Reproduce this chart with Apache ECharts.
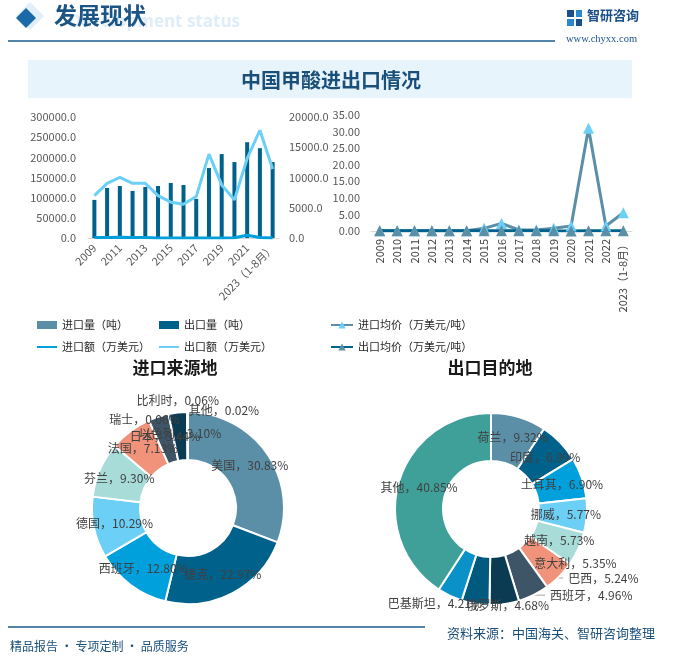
<!DOCTYPE html>
<html>
<head>
<meta charset="utf-8">
<script src="https://cdn.jsdelivr.net/npm/echarts@6/dist/echarts.min.js"></script>
<style>
html,body{margin:0;padding:0;background:#fff;}
#c{width:676px;height:657px;}
</style>
</head>
<body>
<div id="c"></div>
<script>
// ---------- DATA ----------
const years = ['2009','2010','2011','2012','2013','2014','2015','2016','2017','2018','2019','2020','2021','2022','2023（1-8月）'];
const importVolume = [1300,1200,1400,1200,1000,300,120,60,40,40,80,250,14,60,40];
const exportVolume = [94500,124100,129000,116700,126600,129000,136400,131500,97000,173400,208000,188200,237500,222700,188200];
const importAmount = [100,90,110,100,80,15,10,10,8,8,10,30,450,80,20];
const exportAmount = [7010,9040,10030,9040,9040,7010,5920,5590,6850,13860,8770,6300,13150,17810,11400];
const importPrice = [0.08,0.07,0.08,0.08,0.07,0.05,0.8,2.3,0.3,0.3,0.8,1.5,31.0,1.5,5.5];
const exportPrice = [0.07,0.07,0.08,0.08,0.07,0.05,0.04,0.04,0.07,0.08,0.04,0.03,0.06,0.08,0.06];

const importSources = ['美国','捷克','西班牙','德国','芬兰','法国','日本','以色列','瑞士','比利时','其他'];
const importShares  = [30.83,22.97,12.80,10.29,9.30,7.13,3.44,3.10,0.06,0.06,0.02];

const exportDests  = ['荷兰','印度','土耳其','挪威','越南','意大利','巴西','西班牙','俄罗斯','巴基斯坦','其他'];
const exportShares = [9.32,6.99,6.90,5.77,5.73,5.35,5.24,4.96,4.68,4.21,40.85];

// ---------- STYLE ----------
const pieColors = ['#5b8fa8','#00628b','#00a0dc','#6ccff6','#a8dcd9','#f0937a','#3d5566','#0b3b52','#005a80','#0a92c8','#3fa09a'];
const FONT = '"Noto Sans CJK SC","Noto Sans",sans-serif';
const DARK = '#1a5586';
const labelColor = '#404040';

const leftLabelTweaks = {
  8: {offset:[-43,-14]},
  9: {offset:[-10,-33]},
  10:{offset:[36,-23]}
};
const rightLabelTweaks = {
  5: {offset:[31,2]},
  6: {position:'outside'},
  7: {position:'outside'},
  8: {offset:[29,22]},
  9: {offset:[-24,27]}
};
// leader line shapes for the outside labels (style only)
const rightLeader = {6:{length:-19, length2:38}, 7:{length:-9, length2:42}};

function pieData(names, vals, tweaks, leaders){
  return names.map((n,i)=>{
    const o = {name:n, value:vals[i], itemStyle:{color:pieColors[i]}};
    if (tweaks[i]) o.label = Object.assign({}, tweaks[i]);
    if (leaders && leaders[i]) {
      o.labelLine = Object.assign({show:true, maxSurfaceAngle:180, minTurnAngle:0,
        lineStyle:{color:'#a6a6a6', width:1}}, leaders[i]);
    }
    return o;
  });
}

const chart = echarts.init(document.getElementById('c'), null, {renderer:'canvas'});

const axisLabelStyle = {color:'#595959', fontSize:11, fontFamily:FONT};
const legendText = {fontSize:11, color:'#262626', lineHeight:14};
const noMarker = {opacity:0, borderWidth:0};

const option = {
  animation:false,
  textStyle:{fontFamily:FONT},
  graphic:[
    {type:'polygon', shape:{points:[[30,2],[44,16],[30,30],[16,16]]}, style:{fill:'#e3eff8'}, z:1},
    {type:'polygon', shape:{points:[[26,8],[36,18],[26,28],[16,18]]}, style:{fill:'#1a6aa8'}, z:2},
    {type:'text', x:240, y:22, style:{text:'Development status', fill:'#dfedf8', font:'bold 17px "Open Sans",sans-serif', align:'right', verticalAlign:'middle'}, z:1},
    {type:'text', left:54, top:4, style:{text:'发展现状', fill:DARK, font:'bold 23px '+FONT}, z:3},
    {type:'line', shape:{x1:8,y1:41,x2:555,y2:41}, style:{stroke:'#1a5b8c', lineWidth:1.5}},
    {type:'rect', shape:{x:567,y:10,width:7,height:7}, style:{fill:'#1a4f8a'}},
    {type:'rect', shape:{x:576,y:10,width:6,height:7}, style:{fill:'#2a8ad0'}},
    {type:'rect', shape:{x:567,y:19,width:7,height:7}, style:{fill:'#2a8ad0'}},
    {type:'rect', shape:{x:576,y:19,width:6,height:7}, style:{fill:'#1a4f8a'}},
    {type:'text', left:587, top:9, style:{text:'智研咨询', fill:'#1a4f8a', font:'bold 13px '+FONT}},
    {type:'text', left:566, top:34, style:{text:'www.chyxx.com', fill:'#1a4f8a', font:'10.5px "Liberation Serif",serif'}},
    {type:'rect', shape:{x:28,y:60,width:604,height:38}, style:{fill:'#e8f4fc'}},
    {type:'text', x:331, y:80, style:{text:'中国甲酸进出口情况', fill:'#1a4f7a', font:'bold 20px '+FONT, align:'center', verticalAlign:'middle'}},
    {type:'text', x:175, y:368, style:{text:'进口来源地', fill:'#1a1a1a', font:'bold 17px '+FONT, align:'center', verticalAlign:'middle'}},
    {type:'text', x:490, y:368, style:{text:'出口目的地', fill:'#1a1a1a', font:'bold 17px '+FONT, align:'center', verticalAlign:'middle'}},
    {type:'line', shape:{x1:8,y1:627,x2:425,y2:627}, style:{stroke:'#1a5b8c', lineWidth:1.5}},
    {type:'text', x:655, y:633, style:{text:'资料来源：中国海关、智研咨询整理', fill:'#1a4f7a', font:'13px '+FONT, align:'right', verticalAlign:'middle'}},
    {type:'text', x:10, y:646, style:{text:'精品报告 · 专项定制 · 品质服务', fill:'#1a4f7a', font:'12px '+FONT, align:'left', verticalAlign:'middle'}}
  ],
  legend:[
    {left:36, top:318, padding:0, orient:'vertical', itemGap:8, itemWidth:20, itemHeight:8, textStyle:legendText,
     data:[{name:'进口量（吨）', icon:'rect'}, {name:'进口额（万美元）', itemStyle:noMarker}]},
    {left:158, top:318, padding:0, orient:'vertical', itemGap:8, itemWidth:20, itemHeight:8, textStyle:legendText,
     data:[{name:'出口量（吨）', icon:'rect'}, {name:'出口额（万美元）', itemStyle:noMarker}]},
    {left:330, top:318, padding:0, orient:'vertical', itemGap:8, itemWidth:22, itemHeight:9, textStyle:legendText,
     data:['进口均价（万美元/吨）','出口均价（万美元/吨）']}
  ],
  grid:[
    {left:88, width:191, top:117, height:121},
    {left:371, width:261, top:115, height:116}
  ],
  xAxis:[
    {type:'category', gridIndex:0, data:years, boundaryGap:true,
     axisLine:{lineStyle:{color:'#d9d9d9'}}, axisTick:{show:false},
     axisLabel:Object.assign({rotate:45, interval:1, margin:8}, axisLabelStyle)},
    {type:'category', gridIndex:1, data:years, boundaryGap:true,
     axisLine:{lineStyle:{color:'#d9d9d9'}}, axisTick:{show:false},
     axisLabel:Object.assign({rotate:90, interval:0, margin:8}, axisLabelStyle, {color:'#404040'})}
  ],
  yAxis:[
    {type:'value', gridIndex:0, min:0, max:300000, interval:50000, position:'left',
     splitLine:{show:false}, axisLine:{show:false}, axisTick:{show:false},
     axisLabel:Object.assign({formatter:v=>v.toFixed(1), margin:12}, axisLabelStyle)},
    {type:'value', gridIndex:0, min:0, max:20000, interval:5000, position:'right',
     splitLine:{show:false}, axisLine:{show:false}, axisTick:{show:false},
     axisLabel:Object.assign({formatter:v=>v.toFixed(1), margin:10}, axisLabelStyle)},
    {type:'value', gridIndex:1, min:0, max:35, interval:5, position:'left',
     splitLine:{show:false}, axisLine:{show:false}, axisTick:{show:false},
     axisLabel:Object.assign({formatter:v=>v.toFixed(2), margin:11}, axisLabelStyle)}
  ],
  series:[
    {name:'进口量（吨）', type:'bar', xAxisIndex:0, yAxisIndex:0, data:importVolume,
     barWidth:4, barGap:'-100%', itemStyle:{color:'#5b8fa8'}},
    {name:'出口量（吨）', type:'bar', xAxisIndex:0, yAxisIndex:0, data:exportVolume,
     barWidth:4, barGap:'-100%', itemStyle:{color:'#00628b'}},
    {name:'进口额（万美元）', type:'line', xAxisIndex:0, yAxisIndex:1, data:importAmount,
     symbol:'none', lineStyle:{color:'#00a0dc', width:3}, itemStyle:{color:'#00a0dc'}, z:3},
    {name:'出口额（万美元）', type:'line', xAxisIndex:0, yAxisIndex:1, data:exportAmount,
     symbol:'none', lineStyle:{color:'#6ccff6', width:3}, itemStyle:{color:'#6ccff6'}, z:3},
    {name:'进口均价（万美元/吨）', type:'line', xAxisIndex:1, yAxisIndex:2, data:importPrice,
     symbol:'triangle', symbolSize:11, lineStyle:{color:'#5b8fa8', width:3},
     itemStyle:{color:'#6ccff6'}},
    {name:'出口均价（万美元/吨）', type:'line', xAxisIndex:1, yAxisIndex:2, data:exportPrice,
     symbol:'triangle', symbolSize:11, lineStyle:{color:'#00628b', width:3},
     itemStyle:{color:'#5b8fa8'}},
    {name:'进口来源地', type:'pie', center:[188,508], radius:[48,96], startAngle:90,
     avoidLabelOverlap:false, itemStyle:{borderColor:'#fff', borderWidth:2},
     label:{show:true, position:'inside', color:labelColor, fontSize:12,
            formatter:p=>p.name+'，'+p.value.toFixed(2)+'%'},
     labelLine:{show:false},
     labelLayout:{hideOverlap:false},
     data:pieData(importSources, importShares, leftLabelTweaks, null)},
    {name:'出口目的地', type:'pie', center:[491,509], radius:[48,96], startAngle:90,
     avoidLabelOverlap:false, itemStyle:{borderColor:'#fff', borderWidth:2},
     label:{show:true, position:'inside', color:labelColor, fontSize:12,
            formatter:p=>p.name+'，'+p.value.toFixed(2)+'%'},
     labelLine:{show:false},
     labelLayout:{hideOverlap:false},
     data:pieData(exportDests, exportShares, rightLabelTweaks, rightLeader)}
  ]
};
chart.setOption(option);
</script>
</body>
</html>
